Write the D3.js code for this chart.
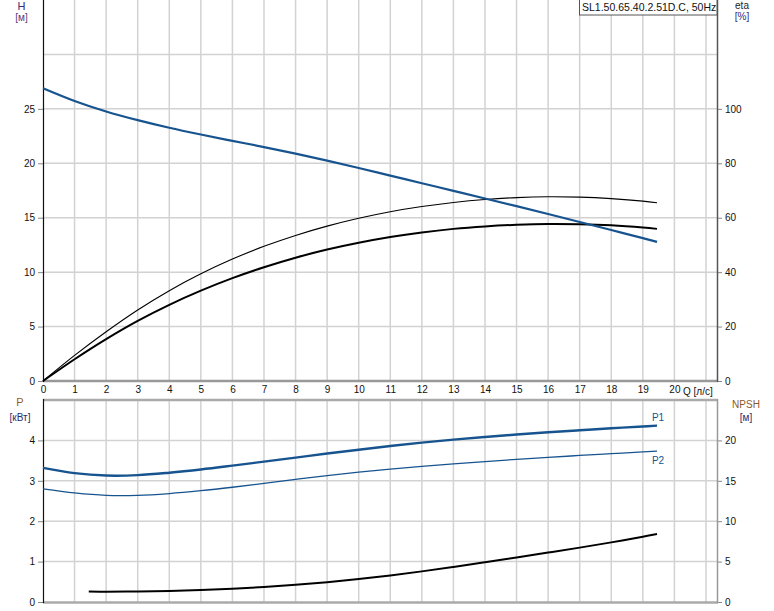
<!DOCTYPE html>
<html><head><meta charset="utf-8">
<script src="https://cdn.jsdelivr.net/npm/d3@7"></script>
<style>
body{margin:0;background:#fff;}
svg{display:block;font-family:"Liberation Sans",Arial,sans-serif;}
</style></head><body>
<svg id="c" width="774" height="611"></svg>
<script>
// ---- data ----
const title = "SL1.50.65.40.2.51D.C, 50Hz";
const qTicks = [0,1,2,3,4,5,6,7,8,9,10,11,12,13,14,15,16,17,18,19,20];
const hTicks = [0,5,10,15,20,25];
const etaTicks = [0,20,40,60,80,100];
const pTicks = [0,1,2,3,4];
const npshTicks = [0,5,10,15,20];

const Q = [0,1,2,3,4,5,6,7,8,9,10,11,12,13,14,15,16,17,18,19,19.45];
const H = [26.9,25.73,24.76,23.96,23.26,22.64,22.06,21.49,20.89,20.25,19.57,18.87,18.17,17.47,16.77,16.06,15.34,14.61,13.87,13.12,12.78];
const etaPump = [0,9.4,18.1,26.1,33.2,39.4,44.8,49.5,53.5,56.9,59.8,62.2,64.1,65.6,66.7,67.4,67.7,67.55,67.0,66.1,65.5];
const etaTotal = [0,8.0,15.4,22.1,28.0,33.2,37.8,41.8,45.3,48.3,50.8,52.9,54.6,55.9,56.8,57.4,57.7,57.6,57.2,56.4,55.9];
const P1 = [3.32,3.19,3.13,3.14,3.20,3.28,3.375,3.475,3.575,3.675,3.77,3.86,3.945,4.02,4.085,4.145,4.2,4.25,4.3,4.345,4.365];
const P2 = [2.80,2.70,2.64,2.64,2.685,2.755,2.84,2.935,3.035,3.13,3.215,3.29,3.358,3.42,3.477,3.53,3.58,3.627,3.672,3.715,3.735];
const Qnpsh = [1.45,2,3,4,5,6,7,8,9,10,11,12,13,14,15,16,17,18,19,19.45];
const NPSH = [1.29,1.28,1.30,1.37,1.48,1.64,1.85,2.12,2.45,2.84,3.29,3.79,4.34,4.92,5.52,6.12,6.73,7.38,8.08,8.42];

// ---- layout ----
const L = 43, R = 717;
const svg = d3.select("#c");
const x = d3.scaleLinear().domain([0, (R-L)/31.57]).range([L, R]);
const yH = d3.scaleLinear().domain([0,35]).range([381, 0]);
const yEta = d3.scaleLinear().domain([0,140]).range([381, 0]);
const yP = d3.scaleLinear().domain([0,5]).range([602, 400]);
const yN = d3.scaleLinear().domain([0,25]).range([602, 400]);

const gridC = "#d2d2d2", blue = "#17548f", fs = "10px";

function grid(yScale, vals, top, bottom){
  const g = svg.append("g");
  g.selectAll("line.v").data(d3.range(1,22)).join("line")
    .attr("x1", d=>x(d)).attr("x2", d=>x(d)).attr("y1", top).attr("y2", bottom)
    .attr("stroke", gridC).attr("stroke-width", 1.5);
  g.selectAll("line.h").data(vals).join("line")
    .attr("x1", L).attr("x2", R).attr("y1", d=>yScale(d)).attr("y2", d=>yScale(d))
    .attr("stroke", gridC).attr("stroke-width", 1.5);
}
grid(yH, [5,10,15,20,25,30], 0, 381);
grid(yP, [1,2,3,4], 400, 602);

function styleAxis(g){
  g.selectAll(".tick line").attr("stroke", "#888");
  g.selectAll(".tick text").attr("fill", "#111").style("font-size", fs).style("font-family","Liberation Sans, Arial, sans-serif");
  g.select(".domain").remove();
}
const fmt = d3.format("d");
// top chart axes
svg.append("g").attr("transform", `translate(${L},0)`)
  .call(d3.axisLeft(yH).tickValues(hTicks).tickFormat(fmt).tickSize(5).tickPadding(3)).call(styleAxis);
svg.append("g").attr("transform", `translate(${R},0)`)
  .call(d3.axisRight(yEta).tickValues(etaTicks).tickFormat(fmt).tickSize(5).tickPadding(3)).call(styleAxis);
svg.append("g").attr("transform", `translate(0,381)`)
  .call(d3.axisBottom(x).tickValues(qTicks).tickFormat(fmt).tickSize(0).tickPadding(5)).call(styleAxis);
// bottom chart axes
svg.append("g").attr("transform", `translate(${L},0)`)
  .call(d3.axisLeft(yP).tickValues(pTicks).tickFormat(fmt).tickSize(5).tickPadding(3)).call(styleAxis);
svg.append("g").attr("transform", `translate(${R},0)`)
  .call(d3.axisRight(yN).tickValues(npshTicks).tickFormat(fmt).tickSize(5).tickPadding(3)).call(styleAxis);

// frame lines
svg.append("line").attr("x1",L).attr("x2",R+1).attr("y1",381).attr("y2",381).attr("stroke","#999").attr("stroke-width",2.5);
svg.append("line").attr("x1",L).attr("x2",R+1).attr("y1",400).attr("y2",400).attr("stroke","#aaa").attr("stroke-width",2.5);
svg.append("line").attr("x1",L).attr("x2",R+1).attr("y1",602.5).attr("y2",602.5).attr("stroke","#aaa").attr("stroke-width",2.5);
svg.append("line").attr("x1",L+0.5).attr("x2",L+0.5).attr("y1",0).attr("y2",382).attr("stroke","#111").attr("stroke-width",1.2);
svg.append("line").attr("x1",L+0.5).attr("x2",L+0.5).attr("y1",399).attr("y2",603).attr("stroke","#111").attr("stroke-width",1.2);
svg.append("line").attr("x1",R+0.5).attr("x2",R+0.5).attr("y1",0).attr("y2",382).attr("stroke","#555").attr("stroke-width",1.5);
svg.append("line").attr("x1",R+0.5).attr("x2",R+0.5).attr("y1",399).attr("y2",603).attr("stroke","#999").attr("stroke-width",1.5);

// curves
function curve(xs, ys, yScale, color, w){
  const line = d3.line().x((d,i)=>x(xs[i])).y(d=>yScale(d)).curve(d3.curveCatmullRom.alpha(0.5));
  svg.append("path").datum(ys).attr("d", line).attr("fill","none")
    .attr("stroke", color).attr("stroke-width", w).attr("stroke-linecap","butt");
}
curve(Q, etaPump, yEta, "#000", 1.1);
curve(Q, etaTotal, yEta, "#000", 2);
curve(Q, H, yH, blue, 2.2);
curve(Q, P1, yP, blue, 2.4);
curve(Q, P2, yP, blue, 1.3);
curve(Qnpsh, NPSH, yN, "#000", 2);

// labels
function txt(t, xx, yy, color, anchor, size){
  svg.append("text").attr("x",xx).attr("y",yy).attr("fill",color)
    .attr("text-anchor",anchor||"middle").style("font-size",size||fs).text(t);
}
txt("H", 21.5, 10, "#3b2b7b", "middle", "11px");
txt("[м]", 21.5, 21, "#5b3b7b");
txt("eta", 742, 9, "#222");
txt("[%]", 742, 20, "#3b2b7b");
txt("P", 20, 406, "#9a5a1a", "middle", "11px");
txt("[кВт]", 20, 421, "#2b2b6b");
txt("NPSH", 746, 408, "#8a5a2a");
txt("[м]", 746, 421, "#2b2b6b");
txt("Q [л/с]", 683, 395, "#111", "start");
txt("P1", x(19.45)+1, yP(4.37)-4, blue, "middle");
txt("P2", x(19.45)+1, yP(3.75)+13, blue, "middle");

// title box
const tb = svg.append("g");
tb.append("rect").attr("x",579.5).attr("y",-1).attr("width", R-579.5).attr("height",16)
  .attr("fill","#fff").attr("stroke","#555").attr("stroke-width",1);
tb.append("text").attr("x", 582).attr("y", 11).attr("fill","#111").style("font-size","10.5px").text(title);
</script>
</body></html>
